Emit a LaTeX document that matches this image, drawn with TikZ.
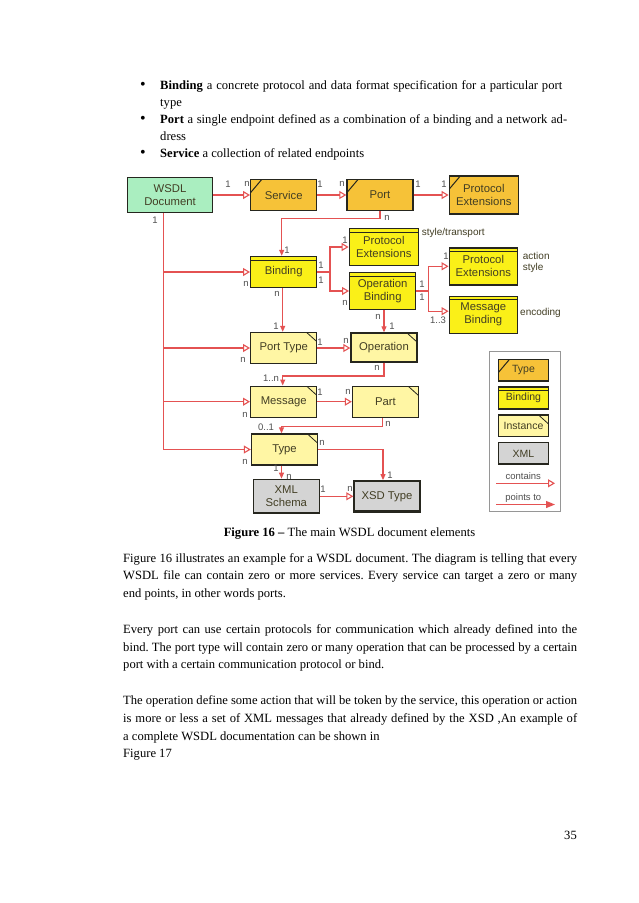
\documentclass[tikz,border=0pt]{standalone}
\usepackage{fontspec}
\setmainfont{Liberation Serif}
\setsansfont{Liberation Sans}
\usepackage{xcolor}
\usepackage{tikz}
\usetikzlibrary{arrows.meta,positioning}

\definecolor{wsdlgreen}{RGB}{170,238,192}
\definecolor{typeorange}{RGB}{246,194,56}
\definecolor{bindyellow}{RGB}{250,240,24}
\definecolor{instyellow}{RGB}{255,246,164}
\definecolor{xmlgrey}{RGB}{212,212,212}
\definecolor{linkred}{RGB}{228,82,82}
\definecolor{boxline}{RGB}{38,38,30}
\definecolor{boxtext}{RGB}{66,62,36}
\definecolor{multtext}{RGB}{80,80,80}
\definecolor{legline}{RGB}{150,150,150}

\newcommand{\jline}[1]{\makebox[454pt][s]{#1}}
\newcommand{\bline}[2]{\makebox[#1][s]{#2}}
\frenchspacing

\begin{document}
\begin{tikzpicture}[
      x = 1pt, y = -1pt,
      node distance = 5pt
    ]
    \tikzstyle{body} = [font=\rmfamily\fontsize{12.6}{17.8}\selectfont, anchor=base west, inner sep=0pt]
    \tikzstyle{box} = [draw=boxline, line width=1.4pt, minimum width=66pt, minimum height=31pt,
                       align=center, inner sep=1pt, text=boxtext,
                       font=\sffamily\fontsize{11.3}{13}\selectfont]
    \tikzstyle{type box} = [box, fill=typeorange,
        path picture={\draw[boxline, line width=1pt] ([yshift=-13pt]path picture bounding box.north west) -- ([xshift=11pt]path picture bounding box.north west);}]
    \tikzstyle{binding box} = [box, fill=bindyellow,
        path picture={\draw[boxline, line width=0.8pt] ([yshift=-3.5pt]path picture bounding box.north west) -- ([yshift=-3.5pt]path picture bounding box.north east);}]
    \tikzstyle{instance box} = [box, fill=instyellow,
        path picture={\draw[boxline, line width=0.8pt] ([xshift=-10pt]path picture bounding box.north east) -- ([yshift=-9pt]path picture bounding box.north east);}]
    \tikzstyle{xml box} = [box, fill=xmlgrey,
        path picture={\draw[boxline, line width=3pt] (path picture bounding box.south west) -- (path picture bounding box.south east);}]
    \tikzstyle{legend box} = [minimum width=50pt, minimum height=21.7pt, font=\sffamily\fontsize{10.5}{12}\selectfont]
    \tikzstyle{link} = [draw=linkred, line width=1.1pt]
    \tikzstyle{contains} = [link, -{Triangle[open, length=7pt, width=8pt]}]
    \tikzstyle{points to} = [link, -{Triangle[length=6pt, width=5pt]}]
    \tikzstyle{mult} = [font=\sffamily\fontsize{9.5}{10}\selectfont, text=multtext, inner sep=0pt]
    \tikzstyle{note} = [font=\sffamily\fontsize{10}{11.7}\selectfont, text=boxtext, anchor=west, align=left, inner sep=0pt]

    \useasboundingbox (0,0) rectangle (638,903);
    \fill[white] (0,0) rectangle (638,903);

    % bullet list
    \foreach \nm/\y in {b1/89, b2/123, b3/157}
      \node[body, anchor=base, font=\rmfamily\fontsize{16}{16}\selectfont] (\nm) at (143,\y) {\textbullet};
    \node[body] (t1) at (160,89) {\bline{402pt}{\textbf{Binding} a concrete protocol and data format specification for a particular port}};
    \node[body] (t2) at (160,106) {type};
    \node[body] (t3) at (160,123) {\bline{407pt}{\textbf{Port} a single endpoint defined as a combination of a binding and a network ad-}};
    \node[body] (t4) at (160,140) {dress};
    \node[body] (t5) at (160,157) {\textbf{Service} a collection of related endpoints};

    % top row
    \node[box, fill=wsdlgreen, minimum width=85pt, minimum height=35pt] (wsdl) at (170,195) {WSDL\\Document};
    \node[type box] (service) at (283.7,195) {Service};
    \node[type box] (port) at (380,195) {Port};
    \node[type box, minimum width=69pt, minimum height=38pt] (protA) at (483.8,195) {Protocol\\Extensions};

    % bindings
    \node[binding box] (binding) at (283.7,272) {Binding};
    \node[binding box, minimum width=69pt, minimum height=37pt] (protB) at (383.8,247) {Protocol\\Extensions};
    \node[binding box, minimum height=36.6pt] (opbind) at (382.7,291) {Operation\\Binding};
    \node[binding box, minimum width=68pt, minimum height=37pt] (protC) at (483.3,266.3) {Protocol\\Extensions};
    \node[binding box, minimum width=68pt, minimum height=37pt] (msgbind) at (483.3,314.7) {Message\\Binding};

    % instances
    \node[instance box] (porttype) at (283.7,348) {Port Type};
    \node[instance box, minimum height=29pt] (operation) at (384,347.5) {Operation};
    \node[instance box] (message) at (283.7,401.7) {Message};
    \node[instance box] (part) at (385.5,402) {Part};
    \node[instance box] (type) at (284.5,449.5) {Type};

    % xml
    \node[xml box, minimum height=34pt] (schema) at (286.3,496.3) {XML\\Schema};
    \node[xml box] (xsd) at (387,496.3) {XSD Type};

    % contains
    \coordinate (trunk) at (163.3,0);
    \draw[contains] (trunk |- wsdl.south) |- (type.west);
    \draw[contains] (trunk |- binding.west) -- (binding.west);
    \draw[contains] (trunk |- porttype.west) -- (porttype.west);
    \draw[contains] (trunk |- message.west) -- (message.west);
    \draw[contains] (wsdl.east |- service.west) -- (service.west);
    \draw[contains] (service.east) -- (port.west);
    \draw[contains] (port.east) -- (protA.west);
    \draw[contains] (binding.east) -- ++(12.6,0) |- (protB.west);
    \draw[contains] (binding.east) -- ++(12.6,0) |- (opbind.west);
    \draw[contains] (opbind.east) -- ++(12.3,0) |- (protC.west);
    \draw[contains] (opbind.east) -- ++(12.3,0) |- ([yshift=3.5pt]msgbind.west);
    \draw[contains] (porttype.east) -- (porttype.east -| operation.west);
    \draw[contains] (message.east) -- (message.east -| part.west);
    \draw[contains] (schema.east |- xsd.west) -- (xsd.west);

    % points to
    \draw[points to] (port.south) -- ++(0,7.6) -| ([xshift=-2pt]binding.north);
    \draw[points to] ([xshift=-1pt]binding.south) -- ([xshift=-1pt]porttype.north);
    \draw[points to] (opbind.south -| operation.north) -- (operation.north);
    \draw[points to] (operation.south) -- ++(0,13.3) -| ([xshift=-1pt]message.north);
    \draw[points to] ([xshift=-3pt]part.south) -- ++(0,8.7) -| ([xshift=-3pt]type.north);
    \draw[points to] (type.east) -| ([xshift=-4pt]xsd.north);
    \draw[points to] ([xshift=-3pt]type.south) -- ([xshift=-3pt]type.south |- schema.north);

    % multiplicities
    \foreach \nm/\x/\y/\t in {m1/228/184/1, m2/247/184/n, m3/320/184/1, m4/342/184/n,
        m5/418/184/1, m6/444/184/1, m7/155/220/1, m8/387/218/n, m9/287/250/1,
        m10/345/240/1, m11/321/265/1, m12/321/280/1, m13/246/284/n, m14/345/303/n,
        m15/422/284/1, m16/422/297/1, m17/446/256/1, m18/438/320/1..3,
        m19/277/294/n, m20/276/326/1, m21/378/317/n, m22/392/326/1,
        m23/320/342/1, m24/346/341/n, m25/243/360/n, m26/377/368/n,
        m27/271/378/1..n, m28/320/392/1, m29/348/392/n, m30/245/415/n,
        m31/388/424/n, m32/266/427/0..1, m33/322/443/n, m34/245/462/n,
        m35/276/468/1, m36/289/477/n, m37/390/475/1, m38/323/489/1, m39/350/489/n}
      \node[mult] (\nm) at (\x,\y) {\t};

    \node[note] (stylenote) at (421.7,233.3) {style/transport};
    \node[note] (actionnote) at (522.7,262.5) {action\\style};
    \node[note] (encnote) at (520,312.7) {encoding};

    % legend
    \node[draw=legline, line width=0.7pt, minimum width=70.5pt, minimum height=159.5pt] (legend) at (524.6,431.5) {};
    \node[type box, legend box] (legtype) at (523.5,370.2) {Type};
    \node[binding box, legend box, below=4.7pt of legtype] (legbind) {Binding};
    \node[instance box, legend box, below=4.7pt of legbind] (leginst) {Instance};
    \node[xml box, legend box, below=4.7pt of leginst] (legxml) {XML};
    \node[mult] (legcont) at (523.3,476.5) {contains};
    \node[mult] (legpoint) at (523.3,498.3) {points to};
    \coordinate (ca) at (496,483.3);
    \coordinate (cb) at (555,483.3);
    \coordinate (pa) at (496,504.5);
    \coordinate (pb) at (555,504.5);
    \draw[contains] (ca) -- (cb);
    \draw[link, -{Triangle[length=9pt, width=7pt]}] (pa) -- (pb);

    % caption and text
    \node[body, anchor=base] (caption) at (349.5,536) {\textbf{Figure 16 –} The main WSDL document elements};

    \node[body] (p1) at (123,562) {\jline{Figure 16 illustrates an example for a WSDL document. The diagram is telling that every}};
    \node[body] (p2) at (123,579.8) {\jline{WSDL file can contain zero or more services. Every service can target a zero or many}};
    \node[body] (p3) at (123,597.6) {end points, in other words ports.};
    \node[body] (p4) at (123,633.2) {\jline{Every port can use certain protocols for communication which already defined into the}};
    \node[body] (p5) at (123,651) {\jline{bind. The port type will contain zero or many operation that can be processed by a certain}};
    \node[body] (p6) at (123,668.8) {port with a certain communication protocol or bind.};
    \node[body] (p7) at (123,704.4) {\jline{The operation define some action that will be token by the service, this operation or action}};
    \node[body] (p8) at (123,722.2) {\jline{is more or less a set of XML messages that already defined by the XSD ,An example of}};
    \node[body] (p9) at (123,740) {a complete WSDL documentation can be shown in};
    \node[body] (p10) at (123,757.8) {Figure 17};

    \node[body, anchor=base east] (pagenum) at (577,839) {35};
  \end{tikzpicture}
\end{document}
